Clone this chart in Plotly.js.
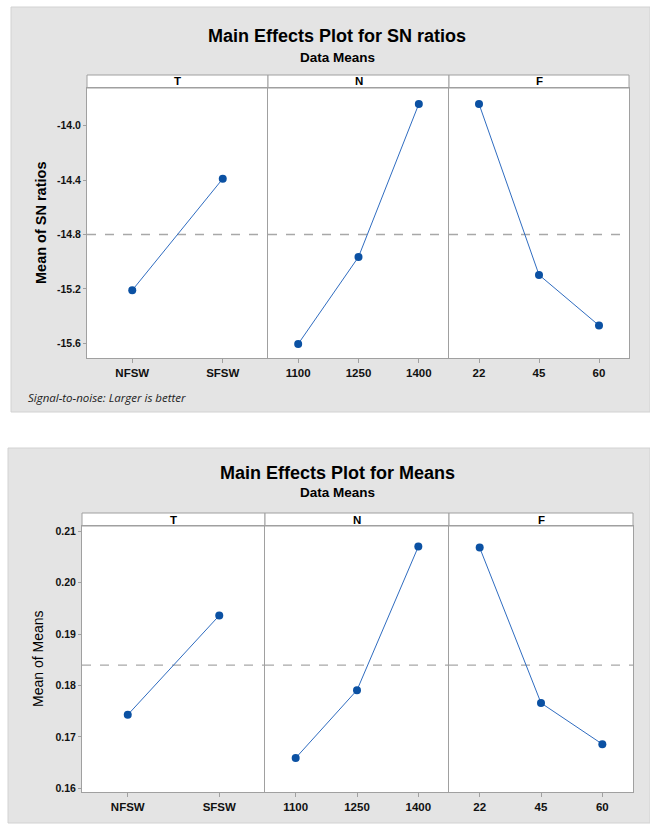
<!DOCTYPE html>
<html>
<head>
<meta charset="utf-8">
<script src="https://cdn.plot.ly/plotly-3.0.1.min.js"></script>
<style>html,body{margin:0;padding:0;background:#fff;}#chart{width:650px;height:825px;}</style>
</head>
<body>
<div id="chart"></div>
<script>
// ---- data ----
const factors = ['T', 'N', 'F'];
const levelsT = ['NFSW', 'SFSW'];
const levelsN = ['1100', '1250', '1400'];
const levelsF = ['22', '45', '60'];
const snT = [-15.21, -14.39];
const snN = [-15.605, -14.965, -13.84];
const snF = [-13.84, -15.097, -15.469];
const meansT = [0.1743, 0.1936];
const meansN = [0.1659, 0.1791, 0.2070];
const meansF = [0.2068, 0.1766, 0.1686];
const snTicks = [-14.0, -14.4, -14.8, -15.2, -15.6];
const meanTicks = [0.16, 0.17, 0.18, 0.19, 0.20, 0.21];

// ---- layout geometry (pixels) ----
const W = 650, H = 825;
const PX = x => x / W;
const PY = y => 1 - y / H;
const FONT = 'Liberation Sans, Arial, sans-serif';
const LINEC = '#a0a0a0';

const charts = [
  {title: 'Main Effects Plot for SN ratios', ytitle: 'Mean of SN ratios', ytitleBold: true,
   levels: [levelsT, levelsN, levelsF], vals: [snT, snN, snF],
   xs: [87, 268, 449, 629], top: 88, bot: 358, hdr: 75,
   yrange: [-15.708, -13.723], ticks: snTicks, dec: 1,
   panel: [11, 7, 650, 412], titleY: 36, subY: 57, yTitleX: 41, note: true},
  {title: 'Main Effects Plot for Means', ytitle: 'Mean of Means', ytitleBold: false,
   levels: [levelsT, levelsN, levelsF], vals: [meansT, meansN, meansF],
   xs: [82, 265, 449, 633], top: 526, bot: 792, hdr: 513,
   yrange: [0.1593, 0.2110], ticks: meanTicks, dec: 2,
   panel: [8, 448, 650, 823], titleY: 473, subY: 493, yTitleX: 38, note: false}
];

const traces = [];
const layout = {
  width: W, height: H, margin: {l: 0, r: 0, t: 0, b: 0},
  paper_bgcolor: '#ffffff', plot_bgcolor: '#ffffff',
  showlegend: false, shapes: [], annotations: [],
  font: {family: FONT, color: '#000'}
};

// gray panels first
charts.forEach(c => {
  layout.shapes.push({type: 'rect', xref: 'paper', yref: 'paper', layer: 'below',
    x0: PX(c.panel[0]), x1: PX(c.panel[2]), y0: PY(c.panel[3]), y1: PY(c.panel[1]),
    fillcolor: '#e4e4e4', line: {color: '#d2d2d2', width: 1}});
});

let k = 0;
charts.forEach((c, ci) => {
  const mean = c.vals[0].reduce((a, b) => a + b, 0) / c.vals[0].length;
  for (let i = 0; i < 3; i++) {
    k++;
    const xn = k === 1 ? 'xaxis' : 'xaxis' + k;
    const yn = k === 1 ? 'yaxis' : 'yaxis' + k;
    const xr = k === 1 ? 'x' : 'x' + k;
    const yr = k === 1 ? 'y' : 'y' + k;
    const n = c.levels[i].length;
    layout[xn] = {
      domain: [PX(c.xs[i]), PX(c.xs[i + 1])], anchor: yr, type: 'category',
      range: [-0.5, n - 0.5], showgrid: false, zeroline: false,
      showline: true, mirror: true, linecolor: LINEC, linewidth: 1,
      ticks: 'outside', ticklen: 4, tickcolor: LINEC, tickwidth: 1,
      tickfont: {family: FONT, size: 11.5, weight: 'bold', color: '#111'},
      fixedrange: true
    };
    layout[yn] = {
      domain: [PY(c.bot), PY(c.top)], anchor: xr, range: c.yrange,
      showgrid: false, zeroline: false, showline: true, mirror: i === 2,
      linecolor: LINEC, linewidth: 1,
      ticks: i === 0 ? 'outside' : '', ticklen: 3, tickcolor: LINEC,
      showticklabels: i === 0, tickmode: 'array', tickvals: c.ticks,
      ticktext: c.ticks.map(v => v.toFixed(c.dec)),
      tickfont: {family: FONT, size: 10.5, weight: 'bold', color: '#111'},
      fixedrange: true
    };
    // white plot background
    layout.shapes.push({type: 'rect', xref: xr + ' domain', yref: yr + ' domain', layer: 'below',
      x0: 0, x1: 1, y0: 0, y1: 1, fillcolor: '#ffffff', line: {width: 0}});
    // dashed reference (grand mean)
    layout.shapes.push({type: 'line', xref: xr + ' domain', yref: yr, layer: 'below',
      x0: 0, x1: 1, y0: mean, y1: mean, line: {color: '#a8a8a8', width: 1.3, dash: 'dash'}});
    // strip header
    layout.shapes.push({type: 'rect', xref: xr + ' domain', yref: 'paper', layer: 'below',
      x0: 0, x1: 1, y0: PY(c.top), y1: PY(c.hdr), fillcolor: '#ffffff',
      line: {color: LINEC, width: 1}});
    layout.annotations.push({xref: 'paper', yref: 'paper',
      x: PX((c.xs[i] + c.xs[i + 1]) / 2), y: PY((c.top + c.hdr) / 2),
      text: factors[i], showarrow: false, xanchor: 'center', yanchor: 'middle',
      font: {family: FONT, size: 11.5, weight: 'bold', color: '#000'}});
    traces.push({
      type: 'scatter', mode: 'lines+markers', x: c.levels[i], y: c.vals[i],
      xaxis: xr, yaxis: yr,
      line: {color: '#2f6cc0', width: 1},
      marker: {color: '#0b51a3', size: 8},
      hoverinfo: 'x+y'
    });
  }
  const cx = 337;
  layout.annotations.push({xref: 'paper', yref: 'paper', x: PX(cx), y: PY(c.titleY),
    text: c.title, showarrow: false, xanchor: 'center', yanchor: 'middle',
    font: {family: FONT, size: 18, weight: 'bold', color: '#000'}});
  layout.annotations.push({xref: 'paper', yref: 'paper', x: PX(cx), y: PY(c.subY),
    text: 'Data Means', showarrow: false, xanchor: 'center', yanchor: 'middle',
    font: {family: FONT, size: 13.5, weight: 'bold', color: '#000'}});
  layout.annotations.push({xref: 'paper', yref: 'paper', x: PX(c.yTitleX),
    y: PY((c.top + c.bot) / 2), text: c.ytitle, textangle: -90, showarrow: false,
    xanchor: 'center', yanchor: 'middle',
    font: {family: FONT, size: c.ytitleBold ? 14.5 : 14, weight: c.ytitleBold ? 'bold' : 'normal', color: '#000'}});
  if (c.note) {
    layout.annotations.push({xref: 'paper', yref: 'paper', x: PX(26), y: PY(397),
      text: 'Signal-to-noise: Larger is better', showarrow: false,
      xanchor: 'left', yanchor: 'middle',
      font: {family: 'Open Sans, DejaVu Sans, sans-serif', size: 11.5, style: 'italic', color: '#222'}});
  }
});

Plotly.newPlot('chart', traces, layout, {staticPlot: true, displayModeBar: false});
</script>
</body>
</html>
